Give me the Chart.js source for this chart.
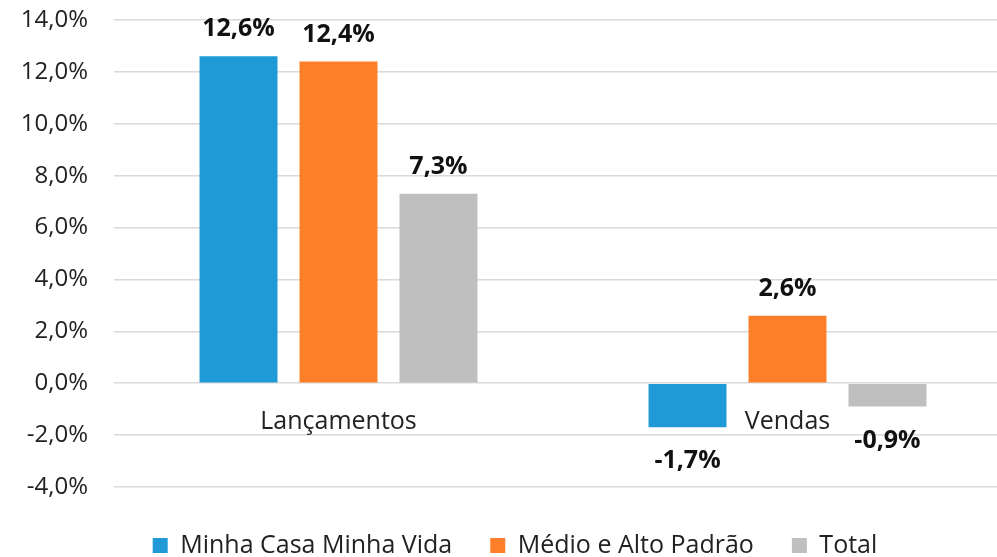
<!DOCTYPE html>
<html>
<head>
<meta charset="utf-8">
<script src="https://cdn.jsdelivr.net/npm/chart.js@4/dist/chart.umd.min.js"></script>
<style>
  html, body { margin: 0; padding: 0; overflow: hidden; background: #fff; }
  #wrap { width: 1012px; height: 560px; }
</style>
</head>
<body>
<div id="wrap"><canvas id="grafico"></canvas></div>
<script>
const categorias = ['Lançamentos', 'Vendas'];
const series = ['Minha Casa Minha Vida', 'Médio e Alto Padrão', 'Total'];
const mcmv = [12.6, -1.7];
const medioAlto = [12.4, 2.6];
const total = [7.3, -0.9];
const ticksY = [-4, -2, 0, 2, 4, 6, 8, 10, 12, 14];
const cores = ['#1f9ad6', '#fd7f2a', '#bfbfbf'];

const formato = v => v.toFixed(1).replace('.', ',') + '%';

Chart.defaults.font.family = '"Open Sans", sans-serif';
Chart.defaults.color = '#222';

// rótulos de valor acima/abaixo das barras
const rotulos = {
  id: 'rotulos',
  afterDatasetsDraw(chart) {
    const c = chart.ctx;
    c.save();
    c.font = 'bold 25px "Open Sans"';
    c.fillStyle = '#111';
    c.textAlign = 'center';
    c.textBaseline = 'middle';
    chart.data.datasets.forEach((ds, i) => {
      chart.getDatasetMeta(i).data.forEach((bar, j) => {
        const v = ds.data[j];
        const y = v >= 0 ? bar.y - 27 : bar.y + 34;
        c.fillText(formato(v), bar.x, y);
      });
    });
    c.restore();
  }
};

// desce um pouco a legenda sem mexer no espaçamento entre itens
const desceLegenda = {
  id: 'desceLegenda',
  afterLayout(chart) {
    chart.legend.top += 8;
    chart.legend.bottom += 8;
  }
};

const ctx = document.getElementById('grafico');

let grafico = new Chart(ctx, {
  type: 'bar',
  data: {
    labels: categorias,
    datasets: [
      { label: series[0], data: mcmv, backgroundColor: cores[0] },
      { label: series[1], data: medioAlto, backgroundColor: cores[1] },
      { label: series[2], data: total, backgroundColor: cores[2] }
    ]
  },
  options: {
    responsive: true,
    maintainAspectRatio: false,
    animation: false,
    categoryPercentage: 0.668,
    barPercentage: 0.78,
    layout: { padding: { left: 18, top: 0, right: 0, bottom: 0 } },
    plugins: {
      tooltip: { enabled: false },
      legend: {
        position: 'bottom',
        labels: {
          boxWidth: 15,
          boxHeight: 15,
          padding: 38,
          font: { size: 25 },
          color: '#222'
        }
      }
    },
    scales: {
      x: {
        position: { y: 0 },
        grid: { display: false },
        border: { display: false },
        ticks: { font: { size: 25 }, padding: 16, color: '#222' }
      },
      y: {
        min: -4,
        max: 14,
        afterBuildTicks: s => { s.ticks = ticksY.map(v => ({ value: v })); },
        afterFit: s => {
          s.width = 96;
          s.paddingTop = 20;
          s.paddingBottom = 0;
        },
        grid: { color: '#d9d9d9', lineWidth: 1.5, drawTicks: false },
        border: { display: false },
        ticks: {
          font: { size: 24 },
          padding: 26,
          color: '#222',
          callback: v => formato(v)
        }
      }
    }
  },
  plugins: [rotulos, desceLegenda]
});
</script>
</body>
</html>
